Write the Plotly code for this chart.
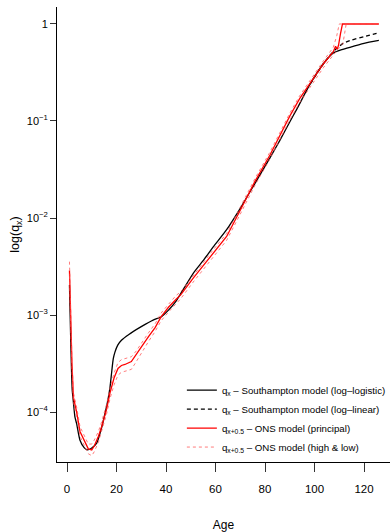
import plotly.graph_objects as go

# Southampton model (log-logistic): age, log10(q)
ages_black = [1, 1.6, 2.1, 2.6, 3.2, 3.9, 5.25, 7, 8.2, 10, 12, 14, 15.4, 16.5, 17.4, 18, 18.7, 19.4,
              20.5, 22, 25, 30, 35, 38, 41, 44, 45.7, 51, 55, 59, 64.5, 70, 76, 82, 86, 90, 92.8,
              98.2, 103.6, 107.6, 111, 114.3, 120, 126]
logq_black = [-2.69, -3.36, -3.77, -3.9, -4.05, -4.12, -4.29, -4.37, -4.39, -4.37, -4.32, -4.16, -4.01,
              -3.88, -3.74, -3.6, -3.45, -3.38, -3.31, -3.26, -3.2, -3.12, -3.05, -3.02, -2.95, -2.86,
              -2.79, -2.57, -2.44, -2.3, -2.12, -1.9, -1.64, -1.38, -1.2, -1.01, -0.88, -0.62, -0.41,
              -0.3, -0.265, -0.24, -0.2, -0.17]

# Southampton model (log-linear)
ages_dashed = [98.2, 103.6, 106, 107.6, 109, 111.6, 115, 120, 126]
logq_dashed = [-0.62, -0.41, -0.33, -0.285, -0.25, -0.2, -0.165, -0.13, -0.09]

# ONS model (principal)
ages_red = [1, 1.5, 2, 2.6, 3.9, 5.25, 7.3, 8.6, 10, 11, 12.7, 14, 16, 17.4, 19, 20.6, 22, 23.4, 26,
            28, 30, 33, 35.6, 38, 41, 44, 46, 51, 55, 59, 64.5, 70, 76, 82, 90, 94, 98.9, 103.6,
            107.6, 108.5, 109.2, 109.7, 110.5, 111.3, 115, 120, 126]
logq_red = [-2.54, -3.05, -3.5, -3.85, -4.0, -4.2, -4.32, -4.38, -4.39, -4.35, -4.25, -4.15, -3.97,
            -3.8, -3.65, -3.55, -3.52, -3.51, -3.48, -3.41, -3.33, -3.22, -3.13, -3.02, -2.92, -2.84,
            -2.79, -2.62, -2.49, -2.36, -2.19, -1.92, -1.62, -1.35, -0.95, -0.77, -0.58, -0.41,
            -0.285, -0.23, -0.26, -0.22, -0.1, 0, 0, 0, 0]

# ONS model (high)
ages_high = [1, 1.5, 2, 2.6, 3.9, 5.25, 7.3, 8.6, 10, 11, 12.7, 14, 16, 17.4, 19, 20.6, 22, 23.4, 26,
             28, 30, 33, 35.6, 38, 41, 44, 46, 51, 55, 59, 64.5, 70, 76, 82, 90, 94, 98.9, 103.6,
             107.6, 109, 110, 126]
logq_high = [-2.45, -2.98, -3.45, -3.8, -3.95, -4.15, -4.27, -4.33, -4.33, -4.29, -4.2, -4.1, -3.92,
             -3.75, -3.6, -3.49, -3.46, -3.45, -3.43, -3.37, -3.29, -3.18, -3.09, -2.98, -2.89, -2.8,
             -2.76, -2.59, -2.46, -2.33, -2.16, -1.89, -1.59, -1.32, -0.92, -0.74, -0.55, -0.38,
             -0.24, -0.12, 0, 0]

# ONS model (low)
ages_low = [1, 1.5, 2, 2.6, 3.9, 5.25, 7.3, 8.6, 10, 11, 12.7, 14, 16, 17.4, 19, 20.6, 22, 23.4, 26,
            28, 30, 33, 35.6, 38, 41, 44, 46, 51, 55, 59, 64.5, 70, 76, 82, 90, 94, 98.9, 103.6,
            107.6, 110, 111.5, 112.8, 126]
logq_low = [-2.6, -3.12, -3.56, -3.9, -4.05, -4.25, -4.37, -4.43, -4.45, -4.41, -4.31, -4.2, -4.02,
            -3.86, -3.72, -3.62, -3.59, -3.58, -3.56, -3.48, -3.39, -3.27, -3.17, -3.06, -2.97, -2.88,
            -2.83, -2.66, -2.53, -2.4, -2.23, -1.96, -1.66, -1.39, -0.99, -0.81, -0.62, -0.45, -0.32,
            -0.25, -0.2, 0, 0]

x_ticks = [0, 20, 40, 60, 80, 100, 120]
y_tickvals = [1e-4, 1e-3, 1e-2, 1e-1, 1]
y_ticktext = ["10<sup>\u22124</sup>", "10<sup>\u22123</sup>", "10<sup>\u22122</sup>",
              "10<sup>\u22121</sup>", "1"]

def q(vals):
    return [10 ** v for v in vals]

FONT = "Liberation Sans, Arial, sans-serif"
TXT = "#000000"
fig = go.Figure()

fig.add_trace(go.Scatter(x=ages_black, y=q(logq_black), mode="lines",
                         line=dict(color="black", width=1.3, shape="spline", smoothing=0.6),
                         name="q<sub>x</sub> \u2013 Southampton model (log\u2013logistic)"))
fig.add_trace(go.Scatter(x=ages_dashed, y=q(logq_dashed), mode="lines",
                         line=dict(color="black", width=1.3, dash="4px,3px", shape="spline", smoothing=0.6),
                         name="q<sub>x</sub> \u2013 Southampton model (log\u2013linear)"))
fig.add_trace(go.Scatter(x=ages_red, y=q(logq_red), mode="lines",
                         line=dict(color="#FF0000", width=1.3),
                         name="q<sub>x+0.5</sub> \u2013 ONS model (principal)"))
fig.add_trace(go.Scatter(x=ages_high, y=q(logq_high), mode="lines",
                         line=dict(color="rgba(255,80,80,0.75)", width=1, dash="dot"),
                         name="q<sub>x+0.5</sub> \u2013 ONS model (high & low)"))
fig.add_trace(go.Scatter(x=ages_low, y=q(logq_low), mode="lines",
                         line=dict(color="rgba(255,80,80,0.75)", width=1, dash="dot"),
                         showlegend=False, name="low"))

fig.update_layout(
    width=390, height=532,
    margin=dict(l=57, r=0, t=7, b=70, autoexpand=False),
    paper_bgcolor="white", plot_bgcolor="white",
    font=dict(family=FONT, size=11, color=TXT),
    showlegend=True,
    legend=dict(x=0.375, y=0.19, xanchor="left", yanchor="top",
                bgcolor="rgba(0,0,0,0)", font=dict(size=9.7, color=TXT),
                tracegroupgap=0, itemwidth=30),
    xaxis=dict(range=[-4.04, 130.5], tickvals=x_ticks, ticks="outside", ticklen=9,
               tickcolor="#333", showline=True, linecolor="black", linewidth=1,
               showgrid=False, zeroline=False, tickfont=dict(size=11.5, color=TXT),
               ticklabelstandoff=7, automargin=False,
               title=dict(text="Age", font=dict(size=12, color=TXT), standoff=26)),
    yaxis=dict(type="log", range=[-4.515, 0.175], tickvals=y_tickvals, ticktext=y_ticktext,
               ticks="outside", ticklen=6, tickcolor="#333", showline=True, linecolor="black",
               linewidth=1, showgrid=False, zeroline=False, tickfont=dict(size=11, color=TXT),
               automargin=False,
               title=dict(text="log(q<sub>x</sub>)", font=dict(size=12.5, color=TXT), standoff=4)),
)

fig.write_html("out.html")
